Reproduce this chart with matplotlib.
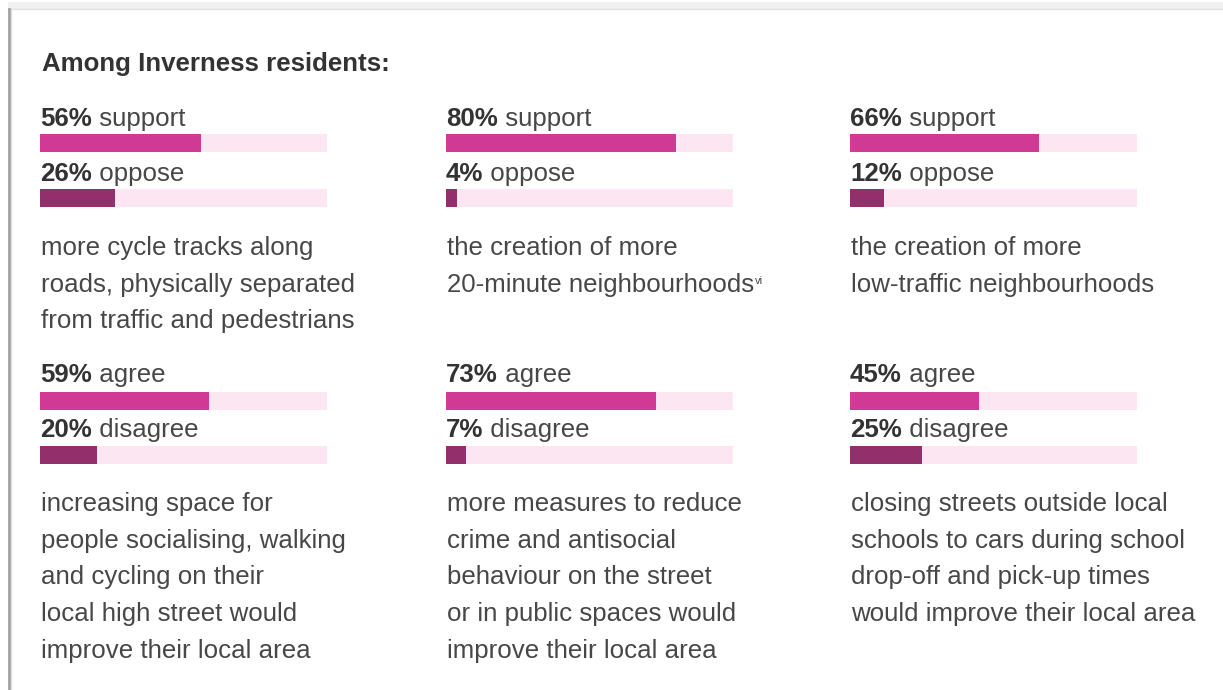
import matplotlib
matplotlib.use("Agg")
import matplotlib.pyplot as plt

plt.rcParams['font.family'] = ['Liberation Sans', 'DejaVu Sans']

W, H = 1223, 690

title = "Among Inverness residents:"

# one panel per question: (positive %, negative %)
pos_vals = [56, 80, 66, 59, 73, 45]
neg_vals = [26, 4, 12, 20, 7, 25]
pos_words = ["support", "support", "support", "agree", "agree", "agree"]
neg_words = ["oppose", "oppose", "oppose", "disagree", "disagree", "disagree"]
descriptions = [
    ["more cycle tracks along", "roads, physically separated", "from traffic and pedestrians"],
    ["the creation of more", "20-minute neighbourhoods"],
    ["the creation of more", "low-traffic neighbourhoods"],
    ["increasing space for", "people socialising, walking", "and cycling on their",
     "local high street would", "improve their local area"],
    ["more measures to reduce", "crime and antisocial", "behaviour on the street",
     "or in public spaces would", "improve their local area"],
    ["closing streets outside local", "schools to cars during school",
     "drop-off and pick-up times", "would improve their local area"],
]
footnotes = [None, "vi", None, None, None, None]

POS_C = '#d03a94'
NEG_C = '#93306b'
TRACK_C = '#fce6f1'
TEXT_C = '#474747'
BOLD_C = '#333333'

col_x = [40, 446, 850]
bar_w = 287
bar_h = 18
# per row: label baselines, bar tops, first description baseline
rows = [
    dict(lab=(126, 181), bar=(134, 189), desc=255),
    dict(lab=(382, 437), bar=(392, 446), desc=511),
]
line_gap = 36.7
fs = 18.6

fig = plt.figure(figsize=(W / 100, H / 100), dpi=100)
fig.patch.set_facecolor('white')
canvas = fig.add_axes([0, 0, 1, 1])
canvas.set_xlim(0, W)
canvas.set_ylim(H, 0)
canvas.axis('off')

# page edge: shadow on top, grey rule on the left
canvas.fill_between([8, W], 2, 9, color='#f0f0f0', lw=0)
canvas.plot([8, W], [9, 9], color='#e2e2e2', lw=1)
canvas.plot([9, 9], [9, H], color='#a0a0a0', lw=2)
canvas.plot([11, 11], [9, H], color='#dcdcdc', lw=1)

fig.canvas.draw()
renderer = fig.canvas.get_renderer()

canvas.text(42, 71, title, fontsize=18.6, fontweight='bold', color=BOLD_C,
            va='baseline', ha='left')


def label(x, y, pct, word):
    t = canvas.text(x, y, f"{pct}%", fontsize=fs, fontweight='bold',
                    color=BOLD_C, va='baseline', ha='left')
    bb = t.get_window_extent(renderer)
    canvas.text(x + bb.width, y, " " + word, fontsize=fs, color=TEXT_C,
                va='baseline', ha='left')


def bar(x, top, value, color):
    ax = fig.add_axes([x / W, 1 - (top + bar_h) / H, bar_w / W, bar_h / H])
    ax.barh(0, 100, height=1, color=TRACK_C, lw=0)
    ax.barh(0, value, height=1, color=color, lw=0)
    ax.set_xlim(0, 100)
    ax.set_ylim(-0.5, 0.5)
    ax.axis('off')


for i in range(6):
    r = rows[i // 3]
    x = col_x[i % 3]
    label(x, r['lab'][0], pos_vals[i], pos_words[i])
    bar(x, r['bar'][0], pos_vals[i], POS_C)
    label(x, r['lab'][1], neg_vals[i], neg_words[i])
    bar(x, r['bar'][1], neg_vals[i], NEG_C)
    for j, line in enumerate(descriptions[i]):
        y = r['desc'] + j * line_gap
        t = canvas.text(x + 1, y, line, fontsize=fs, color=TEXT_C,
                        va='baseline', ha='left')
        if footnotes[i] and j == len(descriptions[i]) - 1:
            bb = t.get_window_extent(renderer)
            canvas.text(x + 1 + bb.width + 1, y - 8, footnotes[i], fontsize=8,
                        color=TEXT_C, va='baseline', ha='left')

fig.savefig('out.png', dpi=100, facecolor='white')
